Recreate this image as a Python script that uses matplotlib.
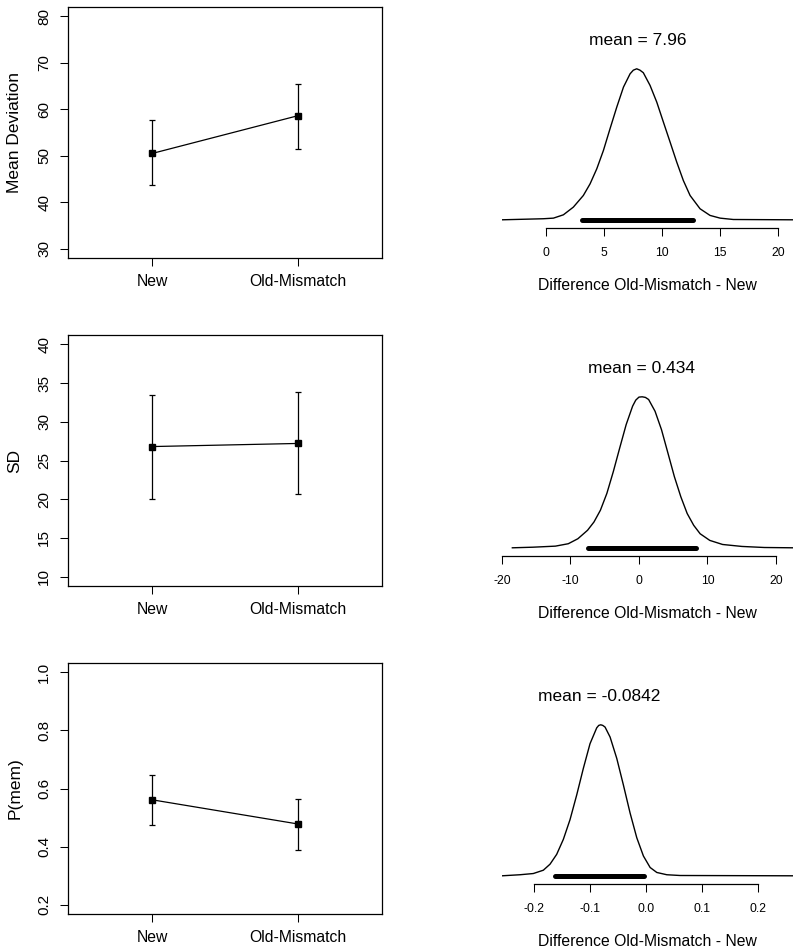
import matplotlib
matplotlib.use('Agg')
import matplotlib.pyplot as plt
import numpy as np

plt.rcParams['font.family'] = ['Liberation Sans', 'DejaVu Sans']
plt.rcParams['axes.unicode_minus'] = False

# ---------------- data ----------------
conditions = ['New', 'Old-Mismatch']

mean_dev = [50.5, 58.6]
mean_dev_lo = [43.7, 51.4]
mean_dev_hi = [57.7, 65.4]

sd_vals = [26.8, 27.2]
sd_lo = [20.0, 20.7]
sd_hi = [33.4, 33.9]

pmem = [0.561, 0.478]
pmem_lo = [0.475, 0.390]
pmem_hi = [0.648, 0.563]

left_ylabels = ['Mean Deviation', 'SD', 'P(mem)']
left_yticks = [[30, 40, 50, 60, 70, 80],
               [10, 15, 20, 25, 30, 35, 40],
               [0.2, 0.4, 0.6, 0.8, 1.0]]
left_yticklabels = [['30', '40', '50', '60', '70', '80'],
                    ['10', '15', '20', '25', '30', '35', '40'],
                    ['0.2', '0.4', '0.6', '0.8', '1.0']]

# posterior of the difference (density relative to its mode)
diff1_x = [-3.77, -0.21, 0.66, 1.52, 2.38, 3.24, 3.82, 4.40, 4.97, 5.54, 6.12, 6.70,
           7.27, 7.55, 7.84, 8.12, 8.41, 8.99, 9.57, 10.14, 10.72, 11.29, 11.86, 12.44,
           13.30, 14.16, 15.03, 16.17, 21.31]
diff1_d = [0.0, 0.007, 0.011, 0.033, 0.084, 0.161, 0.238, 0.338, 0.459, 0.603, 0.746,
           0.879, 0.967, 0.991, 1.0, 0.991, 0.974, 0.890, 0.779, 0.647, 0.514, 0.382,
           0.260, 0.161, 0.073, 0.029, 0.011, 0.002, 0.0]
diff2_x = [-18.49, -15.49, -12.20, -10.32, -8.92, -7.51, -6.57, -5.63, -4.69, -3.75,
           -2.82, -1.87, -0.93, -0.47, 0.0, 0.47, 0.94, 1.41, 2.35, 3.29, 4.23, 5.17,
           6.11, 7.04, 7.99, 8.93, 10.34, 12.21, 15.03, 18.31, 22.49]
diff2_d = [0.0, 0.004, 0.011, 0.027, 0.060, 0.116, 0.171, 0.249, 0.360, 0.504, 0.660,
           0.816, 0.938, 0.978, 0.998, 1.0, 0.996, 0.982, 0.904, 0.782, 0.627, 0.471,
           0.338, 0.227, 0.149, 0.093, 0.049, 0.022, 0.009, 0.002, 0.0]
diff3_x = [-0.258, -0.2258, -0.2020, -0.1840, -0.1720, -0.1601, -0.1482, -0.1362,
           -0.1242, -0.1124, -0.1004, -0.0884, -0.0848, -0.0812, -0.0776, -0.0735,
           -0.0645, -0.0525, -0.0407, -0.0287, -0.0167, -0.0048, 0.0072, 0.0192,
           0.0371, 0.0609, 0.263]
diff3_d = [0.0, 0.007, 0.015, 0.037, 0.077, 0.142, 0.241, 0.372, 0.536, 0.711, 0.875,
           0.980, 0.996, 1.0, 0.996, 0.985, 0.919, 0.777, 0.602, 0.416, 0.252, 0.131,
           0.055, 0.022, 0.007, 0.002, 0.0]

diff_means = [7.96, 0.434, -0.0842]
diff_mean_labels = ['7.96', '0.434', '-0.0842']
diff_hdi = [(3.10, 12.72), (-7.51, 8.31), (-0.163, -0.0036)]
diff_ticks = [[0, 5, 10, 15, 20], [-20, -10, 0, 10, 20], [-0.2, -0.1, 0.0, 0.1, 0.2]]
diff_ticklabels = [['0', '5', '10', '15', '20'], ['-20', '-10', '0', '10', '20'],
                   ['-0.2', '-0.1', '0.0', '0.1', '0.2']]
diff_xlabel = 'Difference Old-Mismatch - New'

# ---------------- figure ----------------
W, H = 800, 950
fig = plt.figure(figsize=(W / 100, H / 100), dpi=100)

left_sets = [(mean_dev, mean_dev_lo, mean_dev_hi),
             (sd_vals, sd_lo, sd_hi),
             (pmem, pmem_lo, pmem_hi)]
diffs = [(diff1_x, diff1_d), (diff2_x, diff2_d), (diff3_x, diff3_d)]

ROW = 328
for i in range(3):
    # ----- left panel -----
    top = 7 + ROW * i
    bot = 258 + ROW * i
    ax = fig.add_axes([68 / W, 1 - bot / H, 314 / W, (bot - top) / H])
    vals, lo, hi = left_sets[i]
    xs = np.arange(1, len(conditions) + 1)
    yerr = [np.array(vals) - np.array(lo), np.array(hi) - np.array(vals)]
    ax.errorbar(xs, vals, yerr=yerr, fmt='none', ecolor='black', elinewidth=0.9,
                capsize=1.9, capthick=0.9)
    ax.plot(xs, vals, color='black', lw=0.9, marker='s', markersize=4.6)
    ax.set_xlim(0.42, 2.58)
    yt = left_yticks[i]
    rng = yt[-1] - yt[0]
    ax.set_ylim(yt[0] - 0.04 * rng, yt[-1] + 0.04 * rng)
    ax.set_xticks(xs)
    ax.set_xticklabels(conditions, fontsize=11.3)
    ax.set_yticks(yt)
    ax.set_yticklabels(left_yticklabels[i], fontsize=11, rotation=90, va='center')
    ax.tick_params(direction='out', length=5.5, width=0.75)
    ax.tick_params(axis='x', pad=6)
    ax.tick_params(axis='y', pad=6.5)
    for s in ax.spines.values():
        s.set_linewidth(0.9)
    ax.set_ylabel(left_ylabels[i], fontsize=12.5)
    ax.yaxis.label.set_va('center')
    ax.yaxis.set_label_coords(-53 / 314, 0.5)

    # ----- right panel -----
    rb = 227.5 + ROW * i
    rt = 20 + ROW * i
    hpx = rb - rt
    axr = fig.add_axes([502 / W, 1 - rb / H, 291 / W, hpx / H])
    dx, dd = diffs[i]
    axr.plot(dx, dd, color='black', lw=1.0)
    h0, h1 = diff_hdi[i]
    axr.plot([h0, h1], [0, 0], color='black', lw=3.6, solid_capstyle='round')
    axr.set_xlim(dx[0], dx[-1])
    axr.set_ylim(-7.7 / 151, (hpx - 7.7) / 151)
    axr.text(diff_means[i], 179 / 151, 'mean = ' + diff_mean_labels[i],
             ha='center', va='center', fontsize=12.5)
    for side in ['left', 'top', 'right']:
        axr.spines[side].set_visible(False)
    axr.spines['bottom'].set_bounds(diff_ticks[i][0], diff_ticks[i][-1])
    axr.spines['bottom'].set_linewidth(0.9)
    axr.set_yticks([])
    axr.set_xticks(diff_ticks[i])
    axr.set_xticklabels(diff_ticklabels[i], fontsize=8.8)
    axr.tick_params(axis='x', direction='out', length=5.5, width=0.75, pad=8.5)
    axr.set_xlabel(diff_xlabel, fontsize=11.3, labelpad=14)

fig.savefig('out.png', dpi=100)
